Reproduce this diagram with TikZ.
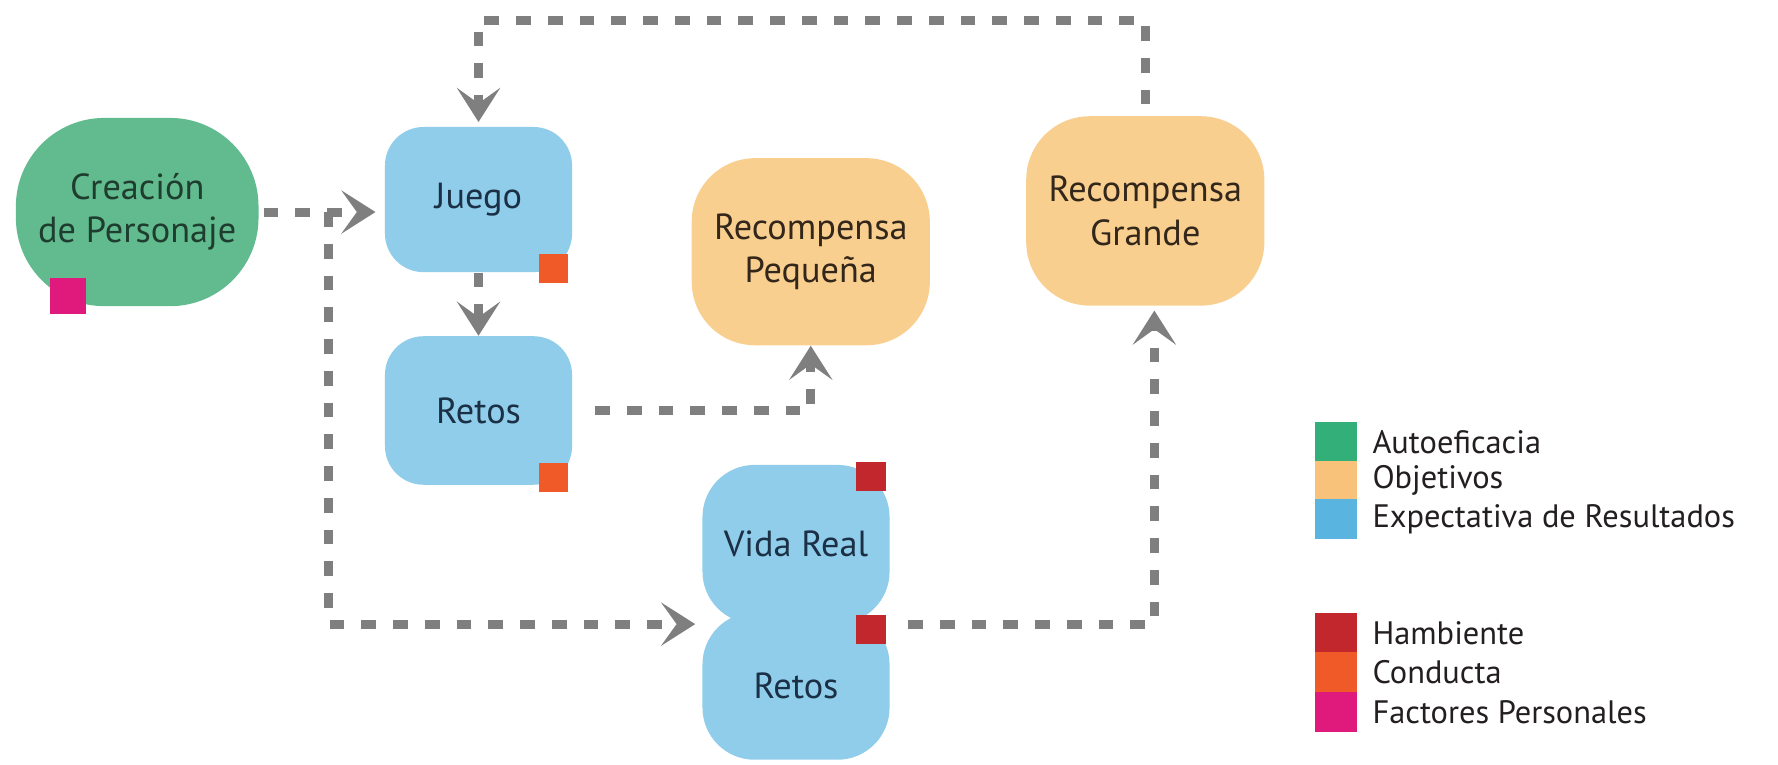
\documentclass[tikz,border=0pt]{standalone}
\usepackage{fontspec}
\setmainfont{PT Sans}
\usetikzlibrary{arrows.meta}
\definecolor{fgreen}{HTML}{62BB8F}
\definecolor{fblue}{HTML}{8FCDEB}
\definecolor{fpeach}{HTML}{F9CF8F}
\definecolor{lgreen}{HTML}{33B07A}
\definecolor{lpeach}{HTML}{F9C27A}
\definecolor{lblue}{HTML}{5AB4E0}
\definecolor{cred}{HTML}{C1272D}
\definecolor{corange}{HTML}{F05A28}
\definecolor{cmagenta}{HTML}{E0197D}
\definecolor{cgray}{HTML}{7F7F7F}
\definecolor{gtext}{HTML}{1E3D2E}
\definecolor{btext}{HTML}{1B2F45}
\definecolor{ptext}{HTML}{33261A}
\definecolor{ltext}{HTML}{231F20}
\tikzset{
  box/.style={rectangle, inner sep=0pt, align=center,
    font=\fontsize{16}{19}\selectfont},
  tag/.style={rectangle, inner sep=0pt, minimum size=#1},
  leg/.style={rectangle, inner sep=0pt, minimum width=18.5pt, minimum height=17.6pt},
  legtext/.style={anchor=west, inner sep=0pt, text=ltext, font=\fontsize{14.3}{17}\selectfont},
  conn/.style={draw=cgray, line width=4pt, dash pattern=on 6.5pt off 7.5pt,
    -{Stealth[length=15pt,width=19pt,inset=6.8pt]}},
}
\begin{document}
\begin{tikzpicture}[x=0.5pt,y=-0.5pt]
\useasboundingbox (0,0) rectangle (1568,674);
\fill[white] (0,0) rectangle (1568,674);
% nodes
\node[box, fill=fgreen, text=gtext, minimum width=107pt, minimum height=83pt, rounded corners=39pt] (crea) at (121,187) {Creación\\de Personaje};
\node[box, fill=fblue, text=btext, minimum width=82.5pt, minimum height=64pt, rounded corners=17pt] (jue) at (422,176) {Juego};
\node[box, fill=fblue, text=btext, minimum width=82.5pt, minimum height=65.5pt, rounded corners=17pt] (ret) at (422,362) {Retos};
\node[box, fill=fpeach, text=ptext, minimum width=105pt, minimum height=82.5pt, rounded corners=28pt] (peq) at (715,222) {Recompensa\\Pequeña};
\node[box, fill=fpeach, text=ptext, minimum width=105pt, minimum height=83.5pt, rounded corners=28pt] (gra) at (1010,186) {Recompensa\\Grande};
\node[box, fill=fblue, text=btext, minimum width=82.5pt, minimum height=70pt, rounded corners=23pt] (vida) at (702,480) {Vida Real};
\node[box, fill=fblue, text=btext, minimum width=82.5pt, minimum height=65pt, rounded corners=23pt] (ret2) at (702,605) {Retos};
% tags
\node[tag=15.5pt, fill=cmagenta] (t1) at (60,261) {};
\node[tag=13pt, fill=corange] (t2) at (488,237) {};
\node[tag=13pt, fill=corange] (t3) at (488,421) {};
\node[tag=13pt, fill=cred] (t4) at (768,420) {};
\node[tag=13pt, fill=cred] (t5) at (768,555) {};
% connectors
\coordinate (br) at (290,187);
\coordinate (topc) at (700,18);
\draw[conn, shorten <=2pt, shorten >=4pt] (crea.east) -- (crea.east -| jue.west);
\draw[conn, shorten >=3pt] (br) |- (vida.south west);
\draw[conn] (jue.south) -- (ret.north);
\draw[conn] ([xshift=10pt]ret.east) -| (peq.south);
\draw[conn, shorten >=2pt] ([xshift=8pt]vida.south east) -| ([xshift=4pt]gra.south);
\draw[conn, shorten <=5pt, shorten >=2pt] (gra.north) |- (topc) -| (jue.north);
% legend
\node[leg, fill=lgreen] (l1) at (1178,390) {};
\node[leg, fill=lpeach] (l2) at (1178,424) {};
\node[leg, fill=lblue] (l3) at (1178,458) {};
\node[leg, fill=cred] (l4) at (1178,558) {};
\node[leg, fill=corange] (l5) at (1178,593) {};
\node[leg, fill=cmagenta] (l6) at (1178,628) {};
\node[legtext] (lt1) at (1210,390) {Autoeficacia};
\node[legtext] (lt2) at (1210,424) {Objetivos};
\node[legtext] (lt3) at (1210,458) {Expectativa de Resultados};
\node[legtext] (lt4) at (1210,558) {Hambiente};
\node[legtext] (lt5) at (1210,593) {Conducta};
\node[legtext] (lt6) at (1210,628) {Factores Personales};
\end{tikzpicture}
\end{document}
